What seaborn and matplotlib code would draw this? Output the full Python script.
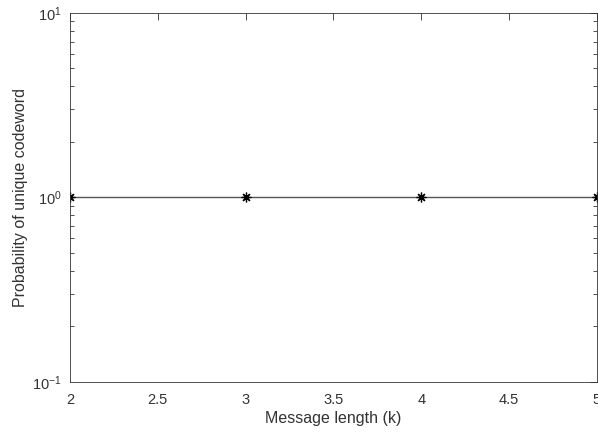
import pandas as pd
import matplotlib.pyplot as plt
import seaborn as sns
import matplotlib
from matplotlib.ticker import LogLocator, NullFormatter

# Данные
message_length = [2, 3, 4, 5]
prob_unique = [1.0, 1.0, 1.0, 1.0]

sns.set_style('white')
matplotlib.rcParams['font.family'] = ['Liberation Sans', 'DejaVu Sans']
matplotlib.rcParams['font.size'] = 11

df = pd.DataFrame({'k': message_length, 'p': prob_unique})

fig = plt.figure(figsize=(5.98, 4.32), dpi=100)
ax = fig.add_axes([0.117, 0.116, 0.881, 0.854])
sns.lineplot(x='k', y='p', data=df, ax=ax, color='#555555', linewidth=1.0,
             marker=(8, 2, 0), markersize=7, markeredgecolor='black',
             markeredgewidth=0.9)
ax.set_yscale('log')
ax.set_xlim(2, 5)
ax.set_ylim(0.1, 10)
ax.set_xticks([2, 2.5, 3, 3.5, 4, 4.5, 5])
ax.set_xticklabels(['2', '2.5', '3', '3.5', '4', '4.5', '5'])
ax.yaxis.set_minor_locator(LogLocator(base=10, subs=range(2, 10)))
ax.yaxis.set_minor_formatter(NullFormatter())
ax.set_xlabel('Message length (k)', fontsize=11.5, color='#333333', labelpad=3)
ax.set_ylabel('Probability of unique codeword', fontsize=11.5, color='#333333', labelpad=3)
ax.tick_params(which='both', direction='in', top=True, right=True,
               colors='#333333', labelsize=10.5)
ax.tick_params(axis='x', pad=8)
ax.tick_params(axis='y', pad=6)
ax.tick_params(which='major', length=5, width=0.6)
ax.tick_params(which='minor', length=3, width=0.6, left=True, right=True)
for s in ax.spines.values():
    s.set_color('#333333')
    s.set_linewidth(0.6)
plt.savefig('out.png', dpi=100)
plt.close()
